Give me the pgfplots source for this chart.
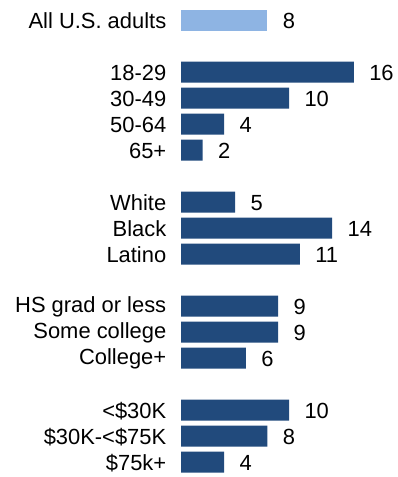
\documentclass[border=0pt]{standalone}
\usepackage{fontspec}
\setmainfont{Liberation Sans}
\usepackage{pgfplots}
\pgfplotsset{compat=1.18}
\definecolor{darkbar}{RGB}{33,74,124}
\definecolor{lightbar}{RGB}{142,180,227}
\begin{document}
\fontsize{22}{26}\selectfont
\begin{tikzpicture}
\path[use as bounding box] (0,0) rectangle (398bp,477bp);
\begin{axis}[
  at={(181bp,457bp)}, anchor=origin,
  x=10.8bp, y=26bp, y dir=reverse,
  xmin=0, xmax=20, ymin=-0.6, ymax=17.6,
  axis line style={draw=none}, tick style={draw=none},
  xtick=\empty,
  ytick={0,2,3,4,5,7,8,9,11,12,13,15,16,17},
  yticklabels={All U.S. adults,18-29,30-49,50-64,65+,White,Black,Latino,HS grad or less,Some college,College+,<\$30K,\$30K-<\$75K,\$75k+},
  yticklabel style={font=\fontsize{22}{26}\selectfont, xshift=-3bp, yshift=-1bp},
  xbar, bar width=21bp, bar shift=0pt,
  /pgf/number format/assume math mode=true,
  nodes near coords,
  nodes near coords style={font=\fontsize{22}{26}\selectfont, anchor=west, xshift=8bp, yshift=-1bp, text=black},
  clip=false,
]
\addplot[fill=lightbar, draw=none] coordinates {(8,0)};
\addplot[fill=darkbar, draw=none] coordinates {
(16,2) (10,3) (4,4) (2,5)
(5,7) (14,8) (11,9)
(9,11) (9,12) (6,13)
(10,15) (8,16) (4,17)};
\end{axis}
\end{tikzpicture}
\end{document}
